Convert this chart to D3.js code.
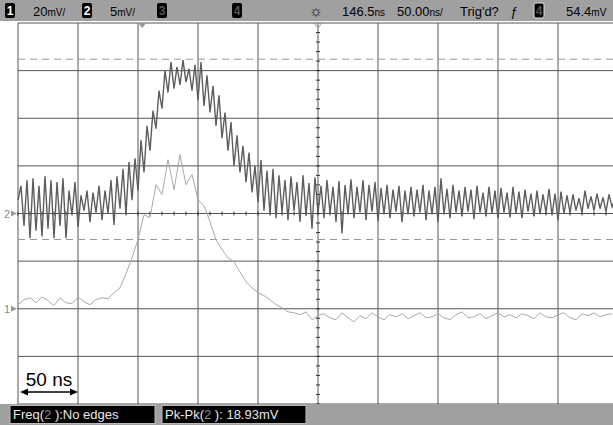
<!DOCTYPE html>
<html lang="en">
<head>
<meta charset="UTF-8">
<title>Scope capture</title>
<style>
    body { margin: 0; background: #fff; }
    svg { display: block; font-family: 'Liberation Sans', Arial, sans-serif; }
</style>
</head>
<body>
<div id="scope"></div>
<script src="https://d3js.org/d3.v7.min.js"></script>
<script>
// timebase: 50 ns/div, delay 146.5 ns, 10 divisions across
const timePerDiv = 50;
const delay = 146.5;
const timeTicks = d3.range(0, 11).map(k => delay - 5 * timePerDiv + k * timePerDiv);

// channel settings (mV/div, ground offset in divisions)
const ch1Scale = 20, ch1Offset = -2;
const ch2Scale = 5, ch2Offset = 0;

// channel 2 samples, mV, every 2.5 ns from left edge
const ch2Step = 2.5;
const ch2Values = [
    1.4, 2.9, -1.3, 3.5, -2.6, 3.7, -1.8, 2.9, -2.4, 3.9, -1.6, 3.5, -2.6, 3.3, -1.3,
    3.7, -2.6, 2.4, -0.2, 3.3, -1.4, 1.9, 0.3, 2.4, -0.9, 2.2, 0.1, 2.9, -0.7, 2.4, 0,
    3.5, -1.2, 3.9, 0.5, 4.7, -0.1, 5.4,
    1.4, 5.8, 2.4, 7.7, 4.3, 9.2, 6.6, 10.8, 8.9, 12.9, 11.0, 15.0,
    12.7, 15.9, 13.1, 15.4, 13.5, 16.1, 13.8, 15.2, 12.9, 15.6, 11.9,
    15.9, 11.3, 14.5, 10.6, 13.4, 9.2, 12.4, 7.9, 10.6, 6.6, 9.6, 5.0, 8.2, 4.3, 7.1,
    3.3, 6.4, 2.2, 5.0, 1.2, 5.6, 0.3, 4.5, -0.1,
    4.7, -0.5, 4.0, 0.1, 3.5, -0.7, 3.9, 0.3, 3.3, -0.9, 4.0, -0.2, 3.2, -1.6, 3.8,
    0.1, 2.9, -0.5, 3.5, 0, 2.8, -0.9, 3.4, -2.1, 3.0, -0.1, 3.6, -0.5, 2.8, 0.1,
    3.5, -0.7, 3.0, 0.2, 3.3, -0.8, 2.7, -0.1, 3.0, -0.5, 2.5, 0.2, 2.9, -0.9, 2.4,
    -0.1, 2.8, -0.3, 2.5, 0.1, 3.0, -0.7, 2.4,
    -0.1, 2.8, -0.9, 3.7, -0.1, 2.6, -0.5, 3.0, 0.1, 2.4, -0.3, 2.8, 0.2, 2.5, -0.6,
    2.9, 0.1, 2.2, -0.3, 2.8, 0, 2.4, -0.5, 2.7, 0.1, 2.2, -0.4, 2.8, 0, 2.3, -0.5,
    2.5, 0.2, 2.1, -0.3, 2.4, -0.1, 2.0, 0.1, 2.6, -0.2, 2.1, -0.7, 2.3, 0, 1.9,
    0.1, 2.0, 0.3, 1.6, 0.1, 2.4, 0.5, 1.8, 0.3, 2.1, 0.5, 1.7, 0.2, 2.0, 0.7, 1.5
];

// channel 1 samples, mV, every 5 ns from left edge
const ch1Step = 5;
const ch1Values = [
    1.7, 3.8, 4.6, 2.5, 5.0, 3.4, 1.3, 4.6, 2.5, 2.1, 5.0, 2.9, 1.7, 3.8, 4.6, 4.2,
    6.7, 8.8, 14.7, 21.4, 29.0, 39.5, 38.2, 52.1, 47.9, 62.6, 50.0, 64.7, 52.1, 56.3,
    45.8, 43.3, 36.5, 29.0, 24.8, 21.4, 19.7, 15.5, 11.3, 8.8, 6.7, 5.5, 3.8, 1.7,
    0.4, -1.3, -1.7, -2.5, -1.3, -4.6, -2.9, -2.1, -3.8, -4.6, -1.7, -3.8, -5.5,
    -2.9, -4.2, -1.7, -3.4, -4.6, -2.5, -3.4, -2.1, -4.2, -2.9, -1.7, -3.8, -3.4,
    -2.1, -3.8, -4.6, -2.5, -1.3, -3.8, -3.4, -2.1, -4.2, -2.9, -1.7, -3.4, -2.5,
    -3.8, -2.1, -2.9, -4.2, -1.7, -3.4, -3.8, -2.5, -1.7, -3.8, -4.6, -2.1, -2.9,
    -1.7, -3.4, -2.5, -2.1
];

// pk-pk cursors on channel 2, mV
const cursorLevels = [16.2, -2.73];

const topLabels = [
    { text: '20', unit: 'mV/', x: 33 },
    { text: '5', unit: 'mV/', x: 110 },
    { text: '146.5', unit: 'ns', x: 342 },
    { text: '50.00', unit: 'ns/', x: 397 },
    { text: "Trig'd?", unit: '', x: 460 },
    { text: '54.4', unit: 'mV', x: 566 }
];
const badges = [
    { n: '1', x: 5, on: true }, { n: '2', x: 82, on: true },
    { n: '3', x: 157, on: false }, { n: '4', x: 232, on: false },
    { n: '4', x: 534, on: false }
];
const measurements = [
    { parts: ['Freq(', '2', ' ):No edges'], x: 10, w: 145 },
    { parts: ['Pk-Pk(', '2', ' ): 18.93mV'], x: 162, w: 144 }
];

const W = 613, H = 425;
const svg = d3.select('#scope').append('svg').attr('width', W).attr('height', H);

const x = d3.scaleLinear()
    .domain([timeTicks[0], timeTicks[timeTicks.length - 1]])
    .range([18, 618]);
const yDiv = d3.scaleLinear().domain([-4, 4]).range([404, 23]);
const y1 = v => yDiv(v / ch1Scale + ch1Offset);
const y2 = v => yDiv(v / ch2Scale + ch2Offset);

// grid
const grid = svg.append('g');
grid.selectAll('.vl').data(timeTicks).enter().append('line')
    .attr('x1', d => x(d)).attr('x2', d => x(d))
    .attr('y1', yDiv(4)).attr('y2', yDiv(-4))
    .attr('stroke', '#555').attr('stroke-width', 1);
grid.selectAll('.hl').data(d3.range(-4, 5)).enter().append('line')
    .attr('x1', 18).attr('x2', W)
    .attr('y1', d => yDiv(d)).attr('y2', d => yDiv(d))
    .attr('stroke', '#555').attr('stroke-width', 1);

// minor ticks on the centre axes
const xc = x(delay), yc = yDiv(0);
grid.selectAll('.tx').data(d3.range(timeTicks[0], timeTicks[10], timePerDiv / 5)).enter().append('line')
    .attr('x1', d => x(d)).attr('x2', d => x(d))
    .attr('y1', yc - 2).attr('y2', yc + 2)
    .attr('stroke', '#333');
grid.selectAll('.ty').data(d3.range(-4, 4, 0.2)).enter().append('line')
    .attr('x1', xc - 2).attr('x2', xc + 2)
    .attr('y1', d => yDiv(d)).attr('y2', d => yDiv(d))
    .attr('stroke', '#333');

// pk-pk cursors
svg.selectAll('.cur').data(cursorLevels).enter().append('line')
    .attr('x1', 18).attr('x2', W)
    .attr('y1', d => y2(d)).attr('y2', d => y2(d))
    .attr('stroke', '#999').attr('stroke-dasharray', '7,5');

// traces
const plot = svg.append('g');
plot.append('path')
    .datum(ch1Values)
    .attr('fill', 'none').attr('stroke', '#a9a9a9').attr('stroke-width', 1)
    .attr('d', d3.line().x((d, i) => x(timeTicks[0] + i * ch1Step)).y(d => y1(d)));
plot.append('path')
    .datum(ch2Values)
    .attr('fill', 'none').attr('stroke', '#5e5e5e').attr('stroke-width', 1.4)
    .attr('d', d3.line().x((d, i) => x(timeTicks[0] + i * ch2Step)).y(d => y2(d)));

// ground markers
[{ n: '2', y: y2(0) }, { n: '1', y: y1(0) }].forEach(m => {
    svg.append('text').attr('x', 4).attr('y', m.y + 4)
        .attr('font-size', 11).attr('fill', '#888').text(m.n);
    svg.append('path')
        .attr('d', `M11,${m.y - 3} L17,${m.y} L11,${m.y + 3} Z`)
        .attr('fill', '#999');
});

// trigger position marker and delay marker
svg.append('path')
    .attr('d', `M${x(0) - 4},23 L${x(0) + 4},23 L${x(0)},28 Z`)
    .attr('fill', '#999');
svg.append('path')
    .attr('d', `M${xc - 4},23 L${xc + 4},23 L${xc},28 Z`)
    .attr('fill', 'none').attr('stroke', '#999');

// top status bar
const topBar = svg.append('g');
topBar.append('rect').attr('x', 0).attr('y', 0).attr('width', W).attr('height', 21).attr('fill', '#a0a0a0');
badges.forEach(b => {
    topBar.append('rect').attr('x', b.x).attr('y', 3).attr('width', 10).attr('height', 15)
        .attr('rx', 2).attr('fill', '#000').attr('stroke', b.x > 500 ? '#ddd' : 'none');
    topBar.append('text').attr('x', b.x + 5).attr('y', 15).attr('text-anchor', 'middle')
        .attr('font-size', 12).attr('font-weight', 'bold')
        .attr('fill', b.on ? '#fff' : '#555').text(b.n);
});
topLabels.forEach(l => {
    const t = topBar.append('text').attr('x', l.x).attr('y', 16).attr('font-size', 13).attr('fill', '#000');
    t.append('tspan').text(l.text);
    if (l.unit) t.append('tspan').attr('font-size', 10).text(l.unit);
});
topBar.append('text').attr('x', 316).attr('y', 16).attr('text-anchor', 'middle')
    .attr('font-size', 15).attr('fill', '#000').text('☼');
topBar.append('text').attr('x', 510).attr('y', 16).attr('font-size', 13)
    .attr('font-style', 'italic').attr('fill', '#000').text('ƒ');

// bottom measurement bar
const bot = svg.append('g');
bot.append('rect').attr('x', 0).attr('y', 404).attr('width', W).attr('height', 21).attr('fill', '#a0a0a0');
measurements.forEach(m => {
    bot.append('rect').attr('x', m.x).attr('y', 405.5).attr('width', m.w).attr('height', 18)
        .attr('fill', '#000').attr('stroke', '#bbb');
    const t = bot.append('text').attr('x', m.x + 3).attr('y', 419).attr('font-size', 13).attr('fill', '#e8e8e8');
    t.append('tspan').text(m.parts[0]);
    t.append('tspan').attr('fill', '#888').text(m.parts[1]);
    t.append('tspan').text(m.parts[2]);
});

// 50 ns scale annotation
const ax0 = x(timeTicks[0]) + 2, ax1 = x(timeTicks[1]);
svg.append('text').attr('x', (ax0 + ax1) / 2).attr('y', 386).attr('text-anchor', 'middle')
    .attr('font-size', 19).attr('fill', '#000').text('50 ns');
svg.append('line').attr('x1', ax0 + 6).attr('x2', ax1 - 6).attr('y1', 392).attr('y2', 392)
    .attr('stroke', '#000').attr('stroke-width', 1.5);
svg.append('path').attr('d', `M${ax0},392 L${ax0 + 8},388.5 L${ax0 + 8},395.5 Z`).attr('fill', '#000');
svg.append('path').attr('d', `M${ax1},392 L${ax1 - 8},388.5 L${ax1 - 8},395.5 Z`).attr('fill', '#000');
</script>
</body>
</html>
